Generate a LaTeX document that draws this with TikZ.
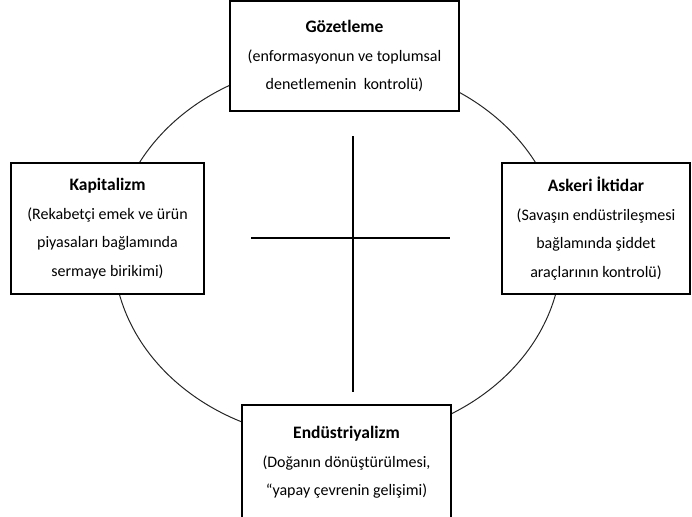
\documentclass[tikz,border=0pt]{standalone}
\usepackage{fontspec}
\setmainfont{Carlito}
\newcommand{\ttl}[1]{{\fontsize{17.5}{28.5}\selectfont\bfseries #1}}
\begin{document}
\begin{tikzpicture}[x=1pt,y=-1pt,
  box/.style={draw, line width=2pt, fill=white, align=center, inner sep=0pt,
    font=\fontsize{16}{28.5}\selectfont},
  cross/.style={line width=1.8pt},
  ring/.style={line width=1pt, black!85}]
\useasboundingbox (0,0) rectangle (692,516);
\draw[ring] (337.5,251) ellipse [x radius=224pt, y radius=189pt];
\coordinate (vt) at (353,136);
\coordinate (vb) at (353,392);
\coordinate (hl) at (251,238);
\coordinate (hr) at (450,238);
\draw[cross] (vt) -- (vb);
\draw[cross] (hl) -- (hr);
\node[box, minimum width=229pt, minimum height=110pt] (goz) at (344.5,56)
  {\ttl{Gözetleme}\\(enformasyonun ve toplumsal\\denetlemenin\ \ kontrolü)};
\node[box, minimum width=193pt, minimum height=131pt] (kap) at (107.5,228.5)
  {\ttl{Kapitalizm}\\(Rekabetçi emek ve ürün\\piyasaları bağlamında\\sermaye birikimi)};
\node[box, minimum width=188pt, minimum height=131pt] (ask) at (596,228.5)
  {\ttl{Askeri İktidar}\\(Savaşın endüstrileşmesi\\bağlamında şiddet\\araçlarının kontrolü)};
\node[box, minimum width=209pt, minimum height=115pt] (end) at (346.5,462.5)
  {\ttl{Endüstriyalizm}\\(Doğanın dönüştürülmesi,\\“yapay çevrenin gelişimi)};
\end{tikzpicture}
\end{document}
